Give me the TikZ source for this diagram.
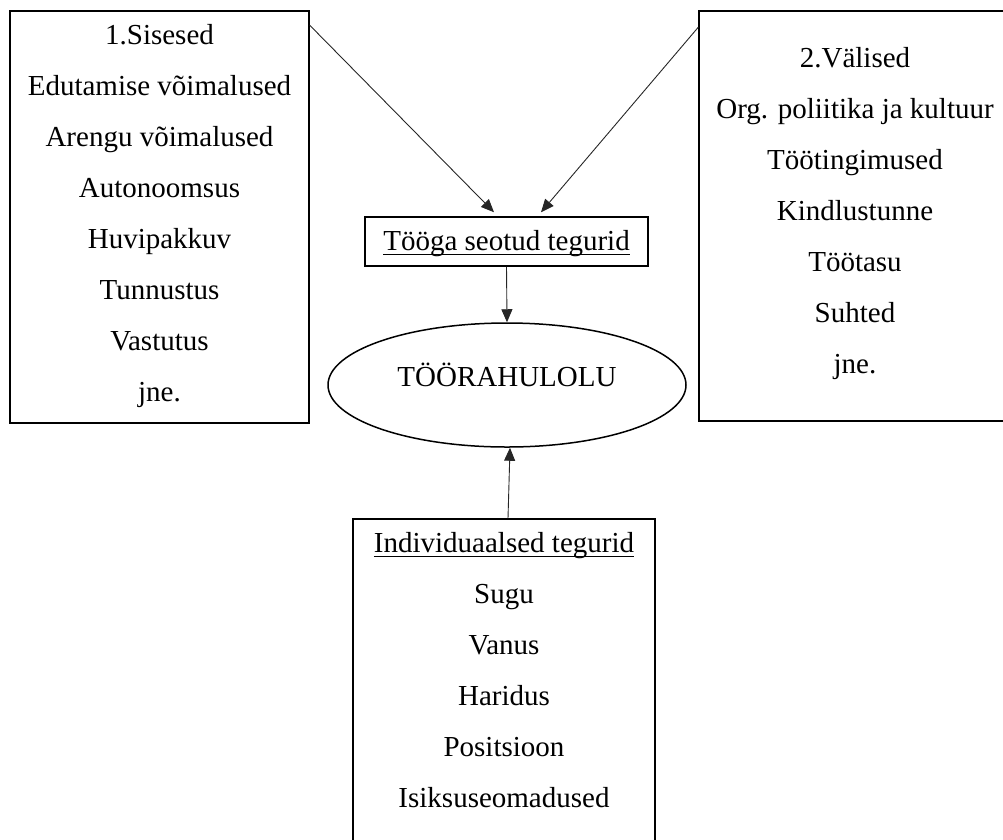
\documentclass[tikz,border=0pt]{standalone}
\usepackage{fontspec}
\setmainfont{Liberation Serif}
\usetikzlibrary{shapes.geometric,arrows.meta}
\newcommand\ulin[1]{\setbox0=\hbox{#1}\rlap{\rule[-4.5pt]{\wd0}{1.2pt}}\box0}
\begin{document}
\begin{tikzpicture}[x=1pt,y=-1pt,
  box/.style={draw, line width=1.5pt, rectangle, inner sep=0pt},
  txt/.style={align=center, font=\fontsize{29}{51}\selectfont, inner sep=0pt},
  arr/.style={line width=0.9pt, draw=black!85, -{Triangle[length=13pt,width=11pt]}}]
\useasboundingbox (0,0) rectangle (1003,839);
\clip (0,0) rectangle (1003,839);
% boxes
\node[box, minimum width=299pt, minimum height=412pt] (L) at (159.5,217) {};
\node[box, minimum width=312pt, minimum height=410pt] (R) at (855,216) {};
\node[box, minimum width=302pt, minimum height=331pt] (B) at (504,684.5) {};
\node[box, minimum width=283pt, minimum height=49pt, font=\fontsize{29}{51}\selectfont,
      text height=25pt, text depth=6.6pt] (M) at (506.5,241.5) {\ulin{Tööga seotud tegurid}};
\node[draw, ellipse, line width=1.5pt, inner sep=0pt, minimum width=358pt, minimum height=124pt,
      font=\fontsize{29}{51}\selectfont, text height=10pt, text depth=8pt] (E) at (507,385) {TÖÖRAHULOLU};
% texts
\node[txt] (Lt) at (159.5,213.2) {\strut 1.Sisesed\\Edutamise võimalused\\Arengu võimalused\\Autonoomsus\\Huvipakkuv\\Tunnustus\\Vastutus\\jne.\strut};
\node[txt] (Rt) at (855,210) {\strut 2.Välised\\Org. poliitika ja kultuur\\Töötingimused\\Kindlustunne\\Töötasu\\Suhted\\jne.\strut};
\node[txt] (Bt) at (504,669.8) {\strut\ulin{Individuaalsed tegurid}\\Sugu\\Vanus\\Haridus\\Positsioon\\Isiksuseomadused\strut};
% connectors
\draw[arr] ([yshift=-15pt]L.north east) -- ([xshift=-12.5pt,yshift=4pt]M.north);
\draw[arr] ([yshift=-17pt]R.north west) -- ([xshift=34.5pt,yshift=4pt]M.north);
\draw[arr] (M.south) -- (E.north);
\draw[arr] ([xshift=4pt]B.north) -- ([xshift=3pt]E.south);
\end{tikzpicture}
\end{document}
